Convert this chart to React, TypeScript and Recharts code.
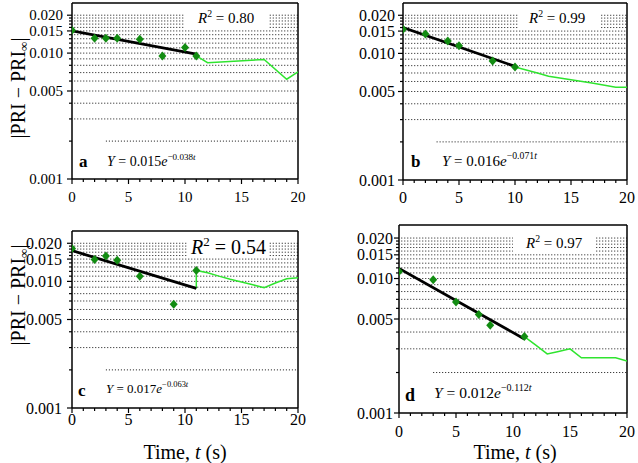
import { ComposedChart, Line, Scatter, XAxis, YAxis, ReferenceLine } from 'recharts';

const FONT = '"Liberation Serif", "Times New Roman", serif';

// panel a
const aPtT = [0, 2, 3, 4, 6, 8, 10, 11];
const aPtV = [0.0152, 0.0131, 0.0131, 0.0131, 0.0129, 0.0095, 0.0111, 0.0095];
const aFitT = [0, 11];
const aFitV = [0.015, 0.0098];
const aTailT = [11, 11, 12, 17, 19, 20];
const aTailV = [0.0098, 0.0095, 0.0084, 0.0089, 0.0062, 0.0071];

// panel b
const bPtT = [0, 2, 4, 5, 8, 10];
const bPtV = [0.0155, 0.0142, 0.0125, 0.0115, 0.0087, 0.0078];
const bFitT = [0, 10];
const bFitV = [0.016, 0.0079];
const bTailT = [10, 11, 12, 13, 14, 15, 16, 17, 18, 19, 20];
const bTailV = [0.0078, 0.0074, 0.007, 0.0066, 0.0064, 0.0062, 0.006, 0.0058, 0.0056, 0.0054, 0.0054];

// panel c
const cPtT = [0, 2, 3, 4, 6, 9, 11];
const cPtV = [0.0182, 0.0149, 0.0159, 0.0147, 0.011, 0.0066, 0.0122];
const cFitT = [0, 11];
const cFitV = [0.0175, 0.0088];
const cTailT = [11, 11, 12, 13, 14, 15, 16, 17, 18, 19, 20];
const cTailV = [0.0088, 0.0122, 0.0117, 0.011, 0.0104, 0.0099, 0.0094, 0.0089, 0.0097, 0.0105, 0.0107];

// panel d
const dPtT = [0, 3, 5, 7, 8, 11];
const dPtV = [0.0113, 0.0098, 0.0067, 0.0054, 0.0045, 0.0037];
const dFitT = [0, 11];
const dFitV = [0.0119, 0.00355];
const dTailT = [11, 12, 13, 14, 15, 16, 17, 18, 19, 20];
const dTailV = [0.0037, 0.0032, 0.00275, 0.00287, 0.003, 0.00257, 0.00257, 0.00257, 0.00257, 0.00244];

const yTicks = [0.001, 0.002, 0.003, 0.004, 0.005, 0.006, 0.007, 0.008, 0.009, 0.01,
  0.011, 0.012, 0.013, 0.014, 0.015, 0.016, 0.017, 0.018, 0.019, 0.02];
const yMajor = [0.001, 0.005, 0.01, 0.015, 0.02];
const xTicks = [0, 1, 2, 3, 4, 5, 6, 7, 8, 9, 10, 11, 12, 13, 14, 15, 16, 17, 18, 19, 20];
const xMajor = [0, 5, 10, 15, 20];
const gridFull = [0.003, 0.004, 0.005, 0.006, 0.007, 0.008, 0.009, 0.01, 0.011, 0.012, 0.013, 0.014, 0.015];
const gridTop = [0.016, 0.017, 0.018, 0.019, 0.02];

const toPts = (t: number[], v: number[]) => t.map((x, i) => ({ t: x, v: v[i] }));
const isMajor = (list: number[], v: number) => list.some(m => Math.abs(m - v) < 1e-9);

const Diamond = (p: any) => {
  const { cx, cy } = p;
  return <polygon points={`${cx},${cy - 4.5} ${cx + 4},${cy} ${cx},${cy + 4.5} ${cx - 4},${cy}`} fill="#128c12" />;
};

function Panel(props: any) {
  const { box, pts, fit, tail, gap, tickFont, tickGap, xLabelDy } = props;
  const { left, top, width, height, pl, pt, pr, pb } = box;
  const axisX = pl - left;
  const axisY = pb - top;

  const YTick = (p: any) => {
    const v = p.payload.value;
    const major = isMajor(yMajor, v);
    return (
      <g>
        <line x1={axisX - (major ? 5 : 3)} x2={axisX} y1={p.y} y2={p.y} stroke="#000" strokeWidth={1.2} />
        {major && (
          <text x={axisX - tickGap} y={p.y} textAnchor="end" dominantBaseline="central"
            fontFamily={FONT} fontSize={tickFont} fill="#000">{v.toFixed(3)}</text>
        )}
      </g>
    );
  };
  const XTick = (p: any) => {
    const v = p.payload.value;
    const major = isMajor(xMajor, v);
    return (
      <g>
        <line x1={p.x} x2={p.x} y1={axisY} y2={axisY + (major ? 5 : 3)} stroke="#000" strokeWidth={1.2} />
        {major && (
          <text x={p.x} y={axisY + xLabelDy} textAnchor="middle" dominantBaseline="central"
            fontFamily={FONT} fontSize={tickFont} fill="#000">{v}</text>
        )}
      </g>
    );
  };

  return (
    <div style={{ position: 'absolute', left, top, width, height }}>
      <ComposedChart width={width} height={height}
        margin={{ top: pt - top, right: left + width - pr, bottom: 0, left: 0 }}>
        <XAxis dataKey="t" type="number" domain={[0, 20]} ticks={xTicks} interval={0}
          tick={XTick} tickLine={false} axisLine={{ stroke: '#000', strokeWidth: 1.5 }}
          height={top + height - pb} allowDataOverflow />
        <YAxis dataKey="v" type="number" scale="log" domain={[0.001, 0.025]} ticks={yTicks}
          interval={0} tick={YTick} tickLine={false} axisLine={{ stroke: '#000', strokeWidth: 1.5 }}
          width={pl - left} allowDataOverflow />
        {gridFull.map(v => (
          <ReferenceLine key={'f' + v} segment={[{ x: 0.2, y: v }, { x: 20, y: v }]}
            stroke="#111" strokeDasharray="1 2" ifOverflow="visible" />
        ))}
        <ReferenceLine segment={[{ x: 3, y: 0.002 }, { x: 20, y: 0.002 }]}
          stroke="#111" strokeDasharray="1 2" ifOverflow="visible" />
        {gridTop.map(v => (
          <ReferenceLine key={'l' + v} segment={[{ x: 0.2, y: v }, { x: gap[0], y: v }]}
            stroke="#111" strokeDasharray="1 2" ifOverflow="visible" />
        ))}
        {gridTop.map(v => (
          <ReferenceLine key={'r' + v} segment={[{ x: gap[1], y: v }, { x: 20, y: v }]}
            stroke="#111" strokeDasharray="1 2" ifOverflow="visible" />
        ))}
        <ReferenceLine y={0.025} stroke="#000" strokeWidth={1.5} ifOverflow="visible" />
        <ReferenceLine x={20} stroke="#000" strokeWidth={1.5} ifOverflow="visible" />
        <Line data={tail} dataKey="v" stroke="#2fe42f" strokeWidth={1.5} dot={false}
          isAnimationActive={false} />
        <Line data={fit} dataKey="v" stroke="#000" strokeWidth={2.8} dot={false}
          isAnimationActive={false} />
        <Scatter data={pts} dataKey="v" shape={Diamond} isAnimationActive={false} />
      </ComposedChart>
    </div>
  );
}

function R2({ x, y, size, value }: any) {
  return (
    <text x={x} y={y} fontFamily={FONT} fontSize={size}>
      <tspan fontStyle="italic">R</tspan>
      <tspan fontSize={size * 0.65} dy={-size * 0.4}>2</tspan>
      <tspan dy={size * 0.4}> = {value}</tspan>
    </text>
  );
}

function Eq({ x, y, size, a, k }: any) {
  return (
    <text x={x} y={y} fontFamily={FONT} fontSize={size}>
      <tspan fontStyle="italic">Y</tspan>
      <tspan> = {a}</tspan>
      <tspan fontStyle="italic">e</tspan>
      <tspan fontSize={size * 0.65} dy={-size * 0.45}>−{k}</tspan>
      <tspan fontSize={size * 0.65} fontStyle="italic">t</tspan>
    </text>
  );
}

function YLabel({ cx, cy }: any) {
  return (
    <text x={cx} y={cy} transform={`rotate(-90 ${cx} ${cy})`} textAnchor="middle"
      dominantBaseline="central" fontFamily={FONT} fontSize={20}>
      |PRI − PRI<tspan fontSize={13} dy={5}>∞</tspan><tspan dy={-5}>|</tspan>
    </text>
  );
}

function XLabel({ cx, y }: any) {
  return (
    <text x={cx} y={y} textAnchor="middle" fontFamily={FONT} fontSize={20}>
      Time, <tspan fontStyle="italic">t</tspan> (s)
    </text>
  );
}

export default function App() {
  return (
    <div style={{ position: 'absolute', left: 0, top: 0, width: 638, height: 463, background: '#fff', overflow: 'hidden' }}>
      <Panel box={{ left: 0, top: 0, width: 315, height: 215, pl: 72, pt: 3, pr: 298, pb: 179 }}
        pts={toPts(aPtT, aPtV)} fit={toPts(aFitT, aFitV)} tail={toPts(aTailT, aTailV)}
        gap={[10, 17.5]} tickFont={15} tickGap={9} xLabelDy={18} />
      <Panel box={{ left: 320, top: 0, width: 318, height: 215, pl: 403, pt: 3, pr: 627, pb: 180 }}
        pts={toPts(bPtT, bPtV)} fit={toPts(bFitT, bFitV)} tail={toPts(bTailT, bTailV)}
        gap={[10.2, 17.7]} tickFont={16} tickGap={8} xLabelDy={17} />
      <Panel box={{ left: 0, top: 220, width: 315, height: 215, pl: 72, pt: 231, pr: 298, pb: 408 }}
        pts={toPts(cPtT, cPtV)} fit={toPts(cFitT, cFitV)} tail={toPts(cTailT, cTailV)}
        gap={[10.2, 17.5]} tickFont={16} tickGap={10} xLabelDy={11} />
      <Panel box={{ left: 320, top: 218, width: 318, height: 222, pl: 399, pt: 225, pr: 627, pb: 413 }}
        pts={toPts(dPtT, dPtV)} fit={toPts(dFitT, dFitV)} tail={toPts(dTailT, dTailV)}
        gap={[10, 17.3]} tickFont={16} tickGap={6} xLabelDy={18} />
      <svg width={638} height={463} style={{ position: 'absolute', left: 0, top: 0, pointerEvents: 'none' }}>
        <YLabel cx={18} cy={88} />
        <YLabel cx={18} cy={295} />
        <XLabel cx={185} y={459} />
        <XLabel cx={515} y={459} />
        <R2 x={198} y={23} size={15} value="0.80" />
        <R2 x={529} y={23} size={15} value="0.99" />
        <R2 x={191} y={254} size={20} value="0.54" />
        <R2 x={526} y={248} size={15} value="0.97" />
        <text x={79} y={167} fontFamily={FONT} fontSize={17} fontWeight="bold">a</text>
        <text x={411} y={167} fontFamily={FONT} fontSize={17} fontWeight="bold">b</text>
        <text x={78} y={396} fontFamily={FONT} fontSize={17} fontWeight="bold">c</text>
        <text x={405} y={401} fontFamily={FONT} fontSize={18} fontWeight="bold">d</text>
        <Eq x={107} y={166} size={14} a="0.015" k="0.038" />
        <Eq x={442} y={166} size={15} a="0.016" k="0.071" />
        <Eq x={106} y={393} size={13} a="0.017" k="0.063" />
        <Eq x={434} y={398} size={15.5} a="0.012" k="0.112" />
      </svg>
    </div>
  );
}
